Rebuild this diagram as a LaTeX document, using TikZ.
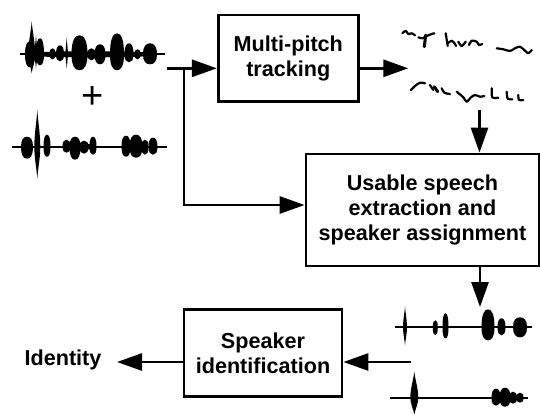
\documentclass[tikz,border=0pt]{standalone}
\usepackage{fontspec}
\setmainfont{Liberation Sans}
\usetikzlibrary{arrows.meta}
\newcommand\wblob[5]{\fill (#1-#3,#2) .. controls (#1-#3,#2-0.7*#4) and (#1-0.6*#3,#2-#4) .. (#1,#2-#4) .. controls (#1+0.6*#3,#2-#4) and (#1+#3,#2-0.7*#4) .. (#1+#3,#2) .. controls (#1+#3,#2+0.7*#5) and (#1+0.6*#3,#2+#5) .. (#1,#2+#5) .. controls (#1-0.6*#3,#2+#5) and (#1-#3,#2+0.7*#5) .. cycle;}
\newcommand\wspike[5]{\fill (#1-#3,#2) .. controls (#1-#3,#2-0.35*#4) and (#1-0.2*#3,#2-0.7*#4) .. (#1,#2-#4) .. controls (#1+0.2*#3,#2-0.7*#4) and (#1+#3,#2-0.35*#4) .. (#1+#3,#2) .. controls (#1+#3,#2+0.35*#5) and (#1+0.2*#3,#2+0.7*#5) .. (#1,#2+#5) .. controls (#1-0.2*#3,#2+0.7*#5) and (#1-#3,#2+0.35*#5) .. cycle;}
\tikzset{
  blockbox/.style={draw, line width=2.8pt, align=center, inner sep=0pt,
    font=\fontsize{21.6}{25}\selectfont\bfseries},
  arr/.style={line width=2.8pt, -{Triangle[length=25pt,width=17pt]}},
  wax/.style={line width=2pt},
  pitchline/.style={line width=2.2pt, line cap=round, line join=round}
}
\begin{document}
\begin{tikzpicture}[x=1pt,y=-1pt]
\useasboundingbox (0,0) rectangle (540,413);
% blocks
\node[blockbox, minimum width=140pt, minimum height=86.7pt] (mpt) at (288.3,58.3) {Multi-pitch\\tracking};
\node[blockbox, minimum width=233pt, minimum height=112pt] (use) at (422.5,210) {Usable speech\\extraction and\\speaker assignment};
\node[blockbox, minimum width=158pt, minimum height=87pt] (sid) at (263,353) {Speaker\\identification};
\node[font=\fontsize{21.6}{25}\selectfont\bfseries, inner sep=0pt] (ident) at (63,359.5) {Identity};
\node[font=\fontsize{38}{40}\selectfont, inner sep=0pt] (plus) at (93,98) {+};
% coordinates
\coordinate (in) at (167,68.3);
\coordinate (j) at (184,68.3);
\coordinate (ub) at (184,205);
\coordinate (ptin) at (408.3,68.3);
\coordinate (ptout) at (479.5,110);
\coordinate (wvin) at (480,307);
\coordinate (wvout) at (411,362);
\coordinate (idarr) at (117,362);
% connectors
\draw[arr] (in) -- (in -| mpt.west);
\draw[arr] (j) -- (ub) -- (ub -| use.west);
\draw[arr] (in -| mpt.east) -- (ptin);
\draw[arr] (ptout) -- (ptout |- use.north);
\draw[arr] (wvin |- use.south) -- (wvin);
\draw[arr] (wvout) -- (wvout -| sid.east);
\draw[arr] (wvout -| sid.west) -- (idarr);
% waveform 1
\draw[wax] (20,54.3) -- (165,54.3);
\wblob{91}{54.3}{67}{3}{3}
\wspike{31.7}{54.3}{3.5}{33}{19}
\wblob{30}{54.3}{5}{13}{13}
\wspike{36}{54.3}{1.5}{19}{14}
\wblob{40}{54.3}{4}{16}{11}
\wblob{52.5}{54.3}{3}{6}{5}
\wblob{60}{54.3}{4}{9}{7}
\wspike{66.7}{54.3}{1.2}{17}{14}
\wblob{79.5}{54.3}{8}{19}{16}
\wblob{91.5}{54.3}{4}{6}{6}
\wblob{100}{54.3}{5.5}{10}{10}
\wblob{117}{54.3}{7}{21}{16}
\wblob{129}{54.3}{4.5}{11}{8}
\wblob{137.5}{54.3}{3}{5}{5}
\wblob{150}{54.3}{7}{11}{10}
% waveform 2
\draw[wax] (12,146.7) -- (167,146.7);
\wblob{27}{146.7}{6}{10}{12}
\wspike{37.3}{146.7}{3}{37}{32}
\wblob{47}{146.7}{3.5}{12}{10}
\wblob{80}{146.7}{16}{3}{3}
\wblob{66.5}{146.7}{4}{7}{6}
\wblob{75}{146.7}{5.5}{10}{13}
\wblob{84}{146.7}{4.5}{6}{7}
\wblob{93}{146.7}{3.5}{10}{8}
\wblob{126}{146.7}{4.5}{11}{10}
\wblob{136}{146.7}{6.5}{12}{11}
\wblob{145}{146.7}{3.5}{7}{8}
\wblob{153}{146.7}{4.5}{9}{8}
% waveform 3
\draw[wax] (395,327.3) -- (532,327.3);
\wspike{405}{327.3}{2}{21}{18}
\wblob{435.3}{327.3}{2.5}{7}{8}
\wblob{445.5}{327.3}{3}{14}{11}
\wblob{488}{327.3}{6.5}{18}{13}
\wblob{501.5}{327.3}{4}{9}{8}
\wblob{520}{327.3}{7}{10}{10}
% waveform 4
\draw[wax] (390,397.7) -- (528,397.7);
\wspike{414.3}{397.7}{4}{26}{17}
\wblob{496}{397.7}{4.5}{9}{8}
\wblob{505}{397.7}{5.5}{10}{9}
\wblob{513}{397.7}{4}{6}{6}
\wblob{520}{397.7}{3.5}{5}{5}
% pitch tracks, top
\draw[pitchline] plot[smooth] coordinates {(402.3,33.3) (405.7,30.7) (408.3,34) (411.7,33.3) (415,35.3)};
\draw[pitchline] plot[smooth] coordinates {(418.3,37.3) (422.3,38.3) (426.7,36) (431.7,34) (434.3,33.3)};
\draw[pitchline, line width=3pt] (425.7,35) -- (424.3,46.7);
\draw[pitchline] (445.7,33.3) -- (447.7,46);
\draw[pitchline] plot[smooth] coordinates {(447.7,43.3) (451.7,40.7) (455,44) (456,46)};
\draw[pitchline] plot[smooth] coordinates {(458.3,41.7) (461.7,46) (465.7,41.7)};
\draw[pitchline] plot[smooth] coordinates {(469,45) (471.7,40.7) (476.7,41.7) (479,45) (482.3,44)};
\draw[pitchline] plot[smooth] coordinates {(496.7,48.3) (503.3,49.3) (510,51) (515,48.3) (520,46.7) (525,50.7) (528.3,53.3) (531.7,50)};
% pitch tracks, bottom
\draw[pitchline] plot[smooth] coordinates {(411,90) (415,86) (420,82.7) (425,83.3)};
\draw[pitchline] (430,85) -- (433.3,90);
\draw[pitchline, line width=3pt] (434.3,86.7) -- (437.7,91.7);
\draw[pitchline] plot[smooth] coordinates {(441.7,88.3) (444.3,92.7) (450,94)};
\draw[pitchline] plot[smooth] coordinates {(456.7,91.7) (463.3,97.3) (466.7,101.7) (471,97.3) (475,95) (480,96.7) (484.3,96)};
\draw[pitchline] plot[smooth] coordinates {(491.7,88.3) (492.3,97.3) (498.3,97.7)};
\draw[pitchline] plot[smooth] coordinates {(506.7,91.7) (507.7,98.7) (512.3,99.3)};
\draw[pitchline] plot[smooth] coordinates {(518.3,95) (519,100) (523.3,100)};
\end{tikzpicture}
\end{document}
